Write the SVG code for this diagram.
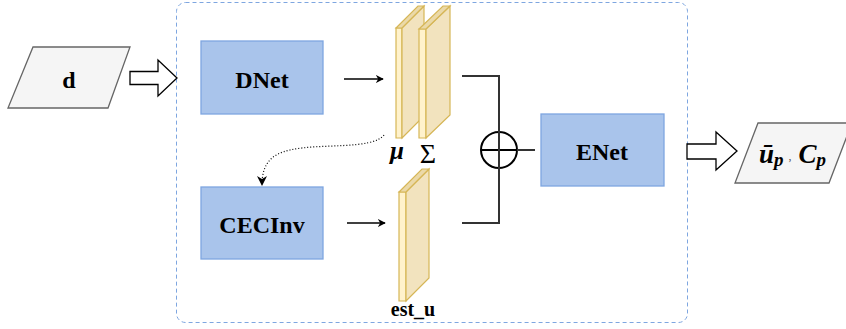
<svg xmlns="http://www.w3.org/2000/svg" width="846" height="329" viewBox="0 0 846 329">
<style>
.box{fill:#A9C4EB;stroke:#7EA6E0;stroke-width:1.3}
.lbl{font-family:"Liberation Serif",serif;font-weight:bold;fill:#000;text-anchor:middle}
.io{fill:#F5F5F5;stroke:#666666;stroke-width:1.3}
.blk{fill:#FFFFFF;stroke:#000;stroke-width:1.3}
.front{fill:#FFF2CC;stroke:#D6B656;stroke-width:1.2}
.side{fill:#F2E3BE;stroke:#D6B656;stroke-width:1.2}
.top{fill:#EBD9A8;stroke:#D6B656;stroke-width:1.2}
.ln{fill:none;stroke:#333333;stroke-width:2}
</style>
<defs>
<marker id="ah" viewBox="0 0 10 10" refX="9" refY="5" markerWidth="8" markerHeight="8" markerUnits="userSpaceOnUse" orient="auto">
<path d="M0,0 L10,5 L0,10 L3,5 Z" fill="#000"/>
</marker>
<marker id="ah2" viewBox="0 0 10 10" refX="9" refY="5" markerWidth="10" markerHeight="10" markerUnits="userSpaceOnUse" orient="auto">
<path d="M0,0 L10,5 L0,10 L3,5 Z" fill="#000"/>
</marker>
</defs>
<g id="container">
<rect x="176.5" y="2.5" width="511" height="320" rx="9" fill="none" stroke="#7EA6E0" stroke-width="1" stroke-dasharray="4 3"/>
</g>
<g id="input-d">
<polygon class="io" points="33,47 130,47 108,108 8,108"/>
<text class="lbl" x="69" y="88" font-size="24">d</text>
</g>
<g id="dnet">
<rect class="box" x="201" y="41" width="122" height="73"/>
<text class="lbl" x="262" y="88" font-size="24">DNet</text>
</g>
<g id="cecinv">
<rect class="box" x="201" y="187" width="122" height="72"/>
<text class="lbl" x="262" y="233" font-size="24">CECInv</text>
</g>
<g id="enet">
<rect class="box" x="541" y="114" width="123" height="72"/>
<text class="lbl" x="602" y="160" font-size="24">ENet</text>
</g>
<g id="mu-layer">
<polygon class="front" points="396,28 402,28 402,138 396,138"/>
<polygon class="side" points="402,28 424,6 424,116 402,138"/>
<polygon class="top" points="396,28 418,6 424,6 402,28"/>
<text x="397" y="159" font-family="Liberation Serif, serif" font-style="italic" font-weight="bold" font-size="25" text-anchor="middle">μ</text>
</g>
<g id="sigma-layer">
<polygon class="front" points="419,29 426,29 426,138 419,138"/>
<polygon class="side" points="426,29 450,6 450,115 426,138"/>
<polygon class="top" points="419,29 443,6 450,6 426,29"/>
<text x="428" y="163" font-family="Liberation Serif, serif" font-size="28" text-anchor="middle">Σ</text>
</g>
<g id="est-u-layer">
<polygon class="front" points="399,192 406,192 406,301 399,301"/>
<polygon class="side" points="406,192 429,169 429,278 406,301"/>
<polygon class="top" points="399,192 422,169 429,169 406,192"/>
<text class="lbl" x="413" y="316" font-size="20">est_u</text>
</g>
<g id="sum">
<circle cx="499" cy="150" r="18" fill="#FFFFFF" stroke="#000" stroke-width="2"/>
<line x1="481" y1="150" x2="517" y2="150" stroke="#000" stroke-width="2"/>
<line x1="499" y1="132" x2="499" y2="168" stroke="#000" stroke-width="2"/>
</g>
<g id="output">
<polygon class="io" points="758,123 852,123 829,183 735,183"/>
<text x="759" y="163" font-family="Liberation Serif, serif" font-style="italic" font-weight="bold" font-size="27">ū<tspan font-size="19" dy="3">p</tspan><tspan dx="5" dy="-6" font-size="12" font-style="normal" font-weight="normal" fill="#555">,</tspan><tspan dx="7" dy="3">C</tspan><tspan font-size="19" dy="3">p</tspan></text>
</g>
<g id="connectors">
<polygon class="blk" points="130,71.5 158,71.5 158,60 177,78 158,96 158,84.5 130,84.5"/>
<polygon class="blk" points="687,144 716,144 716,132 737,151 716,170 716,159 687,159"/>
<line x1="344" y1="79" x2="383" y2="79" stroke="#000" stroke-width="1.3" marker-end="url(#ah)"/>
<line x1="347" y1="223" x2="385" y2="223" stroke="#000" stroke-width="1.3" marker-end="url(#ah)"/>
<path d="M384,135 C372,150 320,143 290,150 C272,154 262,163 262,185" fill="none" stroke="#000" stroke-width="1.2" stroke-dasharray="1 2" marker-end="url(#ah2)"/>
<path class="ln" d="M462,76 H499 V223 H462"/>
<line class="ln" x1="517" y1="150" x2="535" y2="150"/>
</g>
</svg>
